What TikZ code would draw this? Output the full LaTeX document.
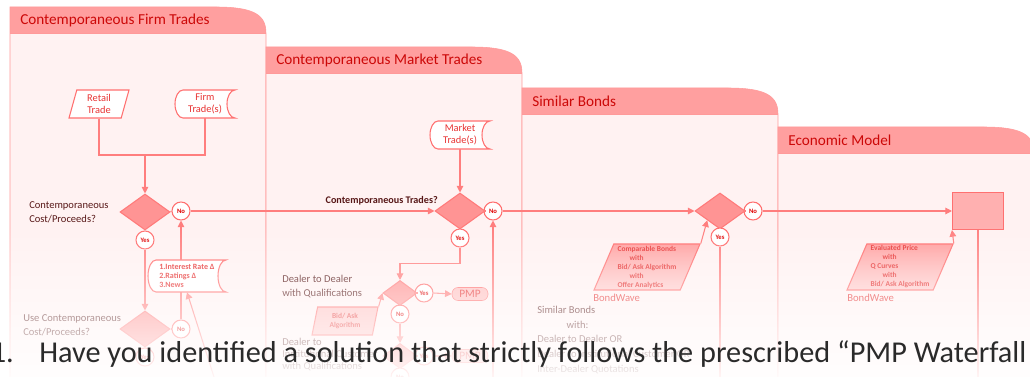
\documentclass[tikz,border=0pt]{standalone}
\usepackage{fontspec}
\setmainfont{Carlito}
\setsansfont{Carlito}
\usetikzlibrary{shapes.geometric,arrows.meta,fadings}
\definecolor{lanefill}{HTML}{FFF2F2}
\definecolor{laneline}{HTML}{FF9A9A}
\definecolor{headfill}{HTML}{FF9F9F}
\definecolor{headtext}{HTML}{CC0808}
\definecolor{flowline}{HTML}{FF7E7E}
\definecolor{boxline}{HTML}{FF7070}
\definecolor{boxtext}{HTML}{E83434}
\definecolor{decfill}{HTML}{FF9494}
\definecolor{decline}{HTML}{FF7A7A}
\definecolor{anstext}{HTML}{E00000}
\definecolor{darklabel}{HTML}{581818}
\definecolor{pmpfill}{HTML}{FFC0C0}
\definecolor{econfill}{HTML}{FFB0B0}
\definecolor{bigtext}{HTML}{2A2A2A}
\newcommand*{\px    }{0.75pt}
\newcommand*{\lanew }{256}
\newcommand*{\headh }{26}
\newcommand*{\fnt}[2]{\fontsize{#1}{#2}\selectfont}
% one swim lane: name, left, top of header, title
\newcommand*{\lane}[4]{%
    \fill [lanefill] (#2,-#3-\headh) rectangle (#2+\lanew,-377);
    \fill [headfill] (#2,-#3-\headh) -- (#2,-#3) -- (#2+\lanew-50,-#3) .. controls (#2+\lanew-12,-#3) and (#2+\lanew,-#3-8) .. (#2+\lanew,-#3-\headh) -- cycle;
    \draw [laneline] (#2,-377) -- (#2,-#3) -- (#2+\lanew-50,-#3) .. controls (#2+\lanew-12,-#3) and (#2+\lanew,-#3-8) .. (#2+\lanew,-#3-\headh) -- (#2+\lanew,-377);
    \draw [laneline] (#2,-#3-\headh) -- (#2+\lanew,-#3-\headh);
    \node [lanetitle] (#1) at (#2+10,-#3-13) {#4};}
% stored data: name, x, y, half width, half height, text
\newcommand*{\storedata}[6]{%
    \draw [storeline] (#2-#4+8,#3+#5) arc [start angle=90, end angle=270, x radius=8, y radius=#5] -- (#2+#4,#3-#5) arc [start angle=270, end angle=90, x radius=8, y radius=#5] -- cycle;
    \node [storetext, minimum width=2*#4*\px, minimum height=2*#5*\px] (#1) at (#2,#3) {#6};}
\tikzfading[name=lowfade, top color=transparent!100, bottom color=transparent!8]
\tikzset{
    lanetitle/.style    = {anchor=west, text=headtext, inner sep=0pt, font=\fnt{11.4pt}{13pt}},
    flow/.style         = {draw=flowline, line width=0.8pt},
    flowarrow/.style    = {flow, -{Triangle[length=5pt, width=5pt]}},
    decision/.style     = {diamond, draw=decline, fill=decfill, line width=0.8pt, inner sep=0pt, minimum width=50*\px, minimum height=36*\px},
    smalldecision/.style= {decision, minimum width=34*\px, minimum height=25*\px},
    answer/.style       = {circle, draw=boxline, fill=white, text=anstext, line width=0.8pt, inner sep=0pt, minimum size=18*\px, font=\bfseries\fnt{5pt}{6pt}},
    datain/.style       = {trapezium, trapezium left angle=68, trapezium right angle=112, trapezium stretches body, draw=boxline, fill=white, line width=0.8pt, text=boxtext, inner sep=0pt, align=center, minimum width=60*\px, minimum height=28*\px, font=\fnt{7.8pt}{9pt}},
    feed/.style         = {datain, trapezium left angle=65, trapezium right angle=115, minimum width=106*\px, minimum height=46*\px, top color=headfill, bottom color=pmpfill!80, align=left, font=\bfseries\fnt{5.6pt}{6.75pt}},
    storetext/.style    = {inner sep=0pt, align=center, text=boxtext, font=\fnt{7.8pt}{9pt}},
    storeline/.style    = {draw=boxline, fill=white, line width=0.8pt},
    asklabel/.style     = {anchor=west, align=left, inner sep=0pt, text=darklabel, font=\fnt{7.9pt}{10.5pt}},
    pmpbox/.style       = {rectangle, rounded corners=6*\px, draw=boxline, fill=pmpfill, text=boxtext, inner sep=0pt, minimum width=36*\px, minimum height=13*\px, font=\fnt{8.5pt}{9pt}},
    source/.style       = {anchor=west, inner sep=0pt, text=boxtext, font=\fnt{8pt}{9pt}},
    bigline/.style      = {inner sep=0pt, text=bigtext, font=\fnt{22.7pt}{26pt}},
}
\begin{document}
\begin{tikzpicture}[x=0.75pt, y=0.75pt, font=\sffamily]
    \useasboundingbox [fill=white] (0,0) rectangle (1030,-377);
    \lane{firmlane}{10}{7}{Contemporaneous Firm Trades}
    \lane{marketlane}{266}{47}{Contemporaneous Market Trades}
    \lane{similarlane}{522}{88}{Similar Bonds}
    \lane{modellane}{778}{127}{Economic Model}

    % firm trades
    \node [datain] (retail) at (99,-104) {Retail\\Trade};
    \storedata{firm}{205}{-104}{30}{14}{Firm\\Trade(s)}
    \coordinate (firmjoin) at (145,-155);
    \node [decision] (firmask) at (145,-212) {};
    \node [asklabel] (firmasktext) at (29,-212) {Contemporaneous\\Cost/Proceeds?};
    \node [answer] (firmno) at (181,-211) {No};
    \node [answer] (firmyes) at (145,-240) {Yes};
    \node [decision] (useask) at (145,-329) {};
    \node [asklabel] (useasktext) at (23,-325) {Use Contemporaneous\\Cost/Proceeds?};
    \node [answer] (useno) at (181,-329) {No};
    \node [answer] (useyes) at (145,-357) {Yes};
    \coordinate (newsfoot) at (214,-377);
    \draw [flow] (retail.south) |- (firmjoin) -| (firm.south);
    \draw [flowarrow] (firmjoin) -- (firmask.north);
    \draw [flow] (firmask.east) -- (firmno.west);
    \draw [flowarrow] (firmyes.south) -- (useask.north);
    \draw [flow] (useask.east) -- (useno.west);
    \draw [flowarrow] (useno.north) -- (firmno.south);
    \storedata{news}{187}{-276}{39}{16}{}
    \node [storetext, anchor=west, align=left, font=\bfseries\fnt{6pt}{6.75pt}] (newstext) at (159,-276) {1.Interest Rate Δ\\2.Ratings Δ\\3.News};
    \draw [flowarrow] (newsfoot) -- (news.south);

    % market trades
    \storedata{market}{460}{-135}{30}{14}{Market\\Trade(s)}
    \node [decision] (marketask) at (460,-211) {};
    \node [asklabel, anchor=east, font=\bfseries\fnt{7.6pt}{9pt}] (marketasktext) at (438,-201) {Contemporaneous Trades?};
    \node [answer] (marketno) at (493,-211) {No};
    \node [answer] (marketyes) at (460,-238) {Yes};
    \node [smalldecision] (ddask) at (400,-293) {};
    \node [asklabel] (ddasktext) at (282,-287) {Dealer to Dealer\\with Qualifications};
    \node [answer] (ddyes) at (424,-293) {Yes};
    \node [pmpbox] (ddpmp) at (470,-294) {PMP};
    \node [answer] (ddno) at (400,-314) {No};
    \node [datain, trapezium left angle=70, trapezium right angle=110, minimum width=66*\px, fill=pmpfill, font=\bfseries\fnt{5.6pt}{6.75pt}] (bidask) at (345,-321) {Bid/ Ask\\Algorithm};
    \node [smalldecision] (dcask) at (400,-356) {};
    \node [asklabel, font=\fnt{7.9pt}{9pt}] (dcasktext) at (282,-355) {Dealer to\\Institutional Customer\\with Qualifications};
    \node [answer] (dcyes) at (424,-356) {Yes};
    \node [pmpbox] (dcpmp) at (470,-356) {PMP};
    \node [answer] (dcno) at (400,-377) {No};
    \coordinate (marketfoot) at (493,-377);
    \draw [flowarrow] (market.south) -- (marketask.north);
    \draw [flow] (marketask.east) -- (marketno.west);
    \draw [flowarrow] (firmno.east) -- (marketask.west);
    \draw [flowarrow] (marketyes.south) -- ++(0,-16) -| (ddask.north);
    \draw [flowarrow] (marketfoot) -- (marketno.south);
    \draw [flow] (ddask.east) -- (ddyes.west);
    \draw [flowarrow] (ddyes.east) -- (ddpmp.west);
    \draw [flow] (ddask.south) -- (ddno.north);
    \draw [flowarrow] (ddno.south) -- (dcask.north);
    \draw [flowarrow] (bidask.top right corner) -- (ddask.west);
    \draw [flow] (dcask.east) -- (dcyes.west);
    \draw [flowarrow] (dcyes.east) -- (dcpmp.west);

    % similar bonds
    \node [decision] (similarask) at (720,-211) {};
    \node [answer] (similarno) at (753,-211) {No};
    \node [answer] (similaryes) at (720,-237) {Yes};
    \node [feed] (comparable) at (647,-267) {Comparable Bonds\\\hspace*{9pt}with\\Bid/ Ask Algorithm\\\hspace*{9pt}with\\Offer Analytics};
    \node [source] (similarsrc) at (593,-298) {BondWave};
    \node [asklabel, font=\fnt{7.9pt}{10.9pt}] (similartext) at (537,-340) {Similar Bonds\\\hspace*{22pt}with:\\Dealer to Dealer OR\\Dealer to Institutional Customer OR\\Inter-Dealer Quotations};
    \coordinate (similarfoot) at (720,-377);
    \draw [flowarrow] (marketno.east) -- (similarask.west);
    \draw [flow] (similarask.east) -- (similarno.west);
    \draw [flow] (similaryes.south) -- (similarfoot);
    \draw [flowarrow] (comparable.top right corner) -- (similarask.south west);

    % economic model
    \node [rectangle, draw=boxline, fill=econfill, line width=0.8pt, minimum width=51*\px, minimum height=37*\px] (evaluated) at (978,-211) {};
    \node [feed] (evalprice) at (900,-267) {Evaluated Price\\\hspace*{9pt}with\\Q Curves\\\hspace*{9pt}with\\Bid/ Ask Algorithm};
    \node [source] (modelsrc) at (847,-298) {BondWave};
    \coordinate (modelfoot) at (978,-377);
    \draw [flowarrow] (similarno.east) -- (evaluated.west);
    \draw [flow] (evaluated.south) -- (modelfoot);
    \draw [flowarrow] (evalprice.top right corner) -- (evaluated.south west);

    \fill [white, path fading=lowfade] (0,-225) rectangle (1030,-377);
    \node [bigline, anchor=base east] (qnum) at (14,-362) {1.};
    \node [bigline, anchor=base west] (question) at (39,-362) {Have you identified a solution that strictly follows the prescribed “PMP Waterfall};
\end{tikzpicture}
\end{document}
